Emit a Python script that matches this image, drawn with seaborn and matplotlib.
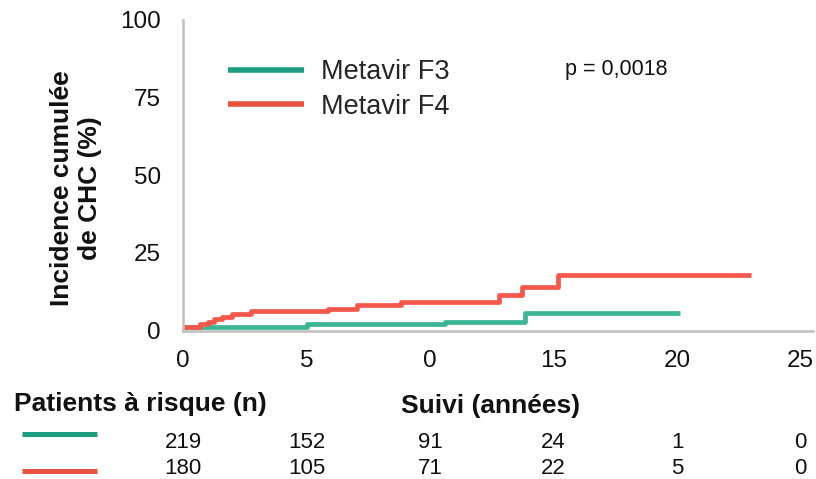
import matplotlib
matplotlib.use('Agg')
import matplotlib.pyplot as plt
from matplotlib.lines import Line2D
from matplotlib.transforms import blended_transform_factory
import seaborn as sns
import pandas as pd

# Cumulative incidence curves.
f3_time = [0, 5.0, 10.6, 13.85, 20.1]
f3_incidence = [1.0, 2.1, 2.8, 5.7, 5.7]
f4_time = [0, 0.69, 1.03, 1.27, 1.57, 1.97, 2.75, 5.88, 7.03, 8.81,
    12.8, 13.71, 15.17, 23.0]
f4_incidence = [1.1, 2.0, 2.6, 3.6, 4.4, 5.4, 6.2, 7.0, 8.2, 9.3,
    11.5, 14.1, 17.8, 17.8]

groups = ['Metavir F3', 'Metavir F4']
x_ticks = [0, 5, 10, 15, 20, 25]
x_tick_labels = ['0', '5', '0', '15', '20', '25']
y_ticks = [0, 25, 50, 75, 100]

# Patients at risk table.
at_risk_f3 = [219, 152, 91, 24, 1, 0]
at_risk_f4 = [180, 105, 71, 22, 5, 0]
p_text = 'p = 0,0018'

curve_colors = {'Metavir F3': '#3cb594', 'Metavir F4': '#f5584b'}
key_colors = {'Metavir F3': '#1d9e80', 'Metavir F4': '#e85440'}

# Building the long DataFrame.
df = pd.concat([
    pd.DataFrame({'time': f3_time, 'incidence': f3_incidence,
        'group': groups[0]}),
    pd.DataFrame({'time': f4_time, 'incidence': f4_incidence,
        'group': groups[1]})], ignore_index=True)

sns.set_style('white')
plt.rcParams['font.family'] = ['Liberation Sans', 'DejaVu Sans']

W, H = 816, 479
fig = plt.figure(figsize=(W / 100, H / 100), dpi=100)
ax = fig.add_axes([183 / W, 1 - 330.5 / H, 630 / W, 310.5 / H])

sns.lineplot(data=df, x='time', y='incidence', hue='group',
    hue_order=groups, palette=curve_colors, drawstyle='steps-post',
    linewidth=3.4, solid_capstyle='butt', errorbar=None, ax=ax)

ax.set_xlim(0, 25.5)
ax.set_ylim(0, 100)
ax.set_xticks(x_ticks)
ax.set_xticklabels(x_tick_labels)
ax.set_yticks(y_ticks)
ax.set_xlabel('')
ax.set_ylabel('')

# Axes styling.
sns.despine(ax=ax)
for side in ['left', 'bottom']:
    ax.spines[side].set_color('#bfbfbf')
    ax.spines[side].set_linewidth(1.8)
ax.tick_params(axis='both', color='#bfbfbf', width=1.8, length=5,
    labelsize=17.5, labelcolor='#111111')
ax.tick_params(axis='x', pad=9)
ax.tick_params(axis='y', pad=11)

# Legend.
handles, labels = ax.get_legend_handles_labels()
leg = ax.legend(handles, labels, loc='upper left',
    bbox_to_anchor=(228 / W, 1 - 59 / H), bbox_transform=fig.transFigure,
    frameon=False, fontsize=19.5, handlelength=2.8, handletextpad=0.65,
    labelspacing=0.33, borderpad=0, borderaxespad=0)
for line, name in zip(leg.get_lines(), labels):
    line.set_color(key_colors[name])
    line.set_linewidth(4)

fig.text(565 / W, 1 - 70 / H, p_text, fontsize=15.5, va='center',
    color='#111111')

# Y label.
fig.text(76 / W, 1 - 188 / H, 'Incidence cumulée\nde CHC (%)',
    rotation=90, ha='center', va='center', multialignment='center',
    fontsize=19, fontweight='bold', linespacing=1.2, color='#111111')

# X label and at-risk table.
fig.text(491 / W, 1 - 405.5 / H, 'Suivi (années)', ha='center',
    va='center', fontsize=19, fontweight='bold', color='#111111')
fig.text(14 / W, 1 - 404 / H, 'Patients à risque (n)', ha='left',
    va='center', fontsize=19, fontweight='bold', color='#111111')

row_trans = blended_transform_factory(ax.transData, fig.transFigure)
for counts, y_px, name in [(at_risk_f3, 443, groups[0]),
                           (at_risk_f4, 469, groups[1])]:
    for t, n in zip(x_ticks, counts):
        ax.text(t, 1 - y_px / H, str(n), transform=row_trans,
            ha='center', va='center', fontsize=16, color='#111111',
            clip_on=False)
for y_px, name in [(434, groups[0]), (471, groups[1])]:
    fig.add_artist(Line2D([22 / W, 97 / W], [1 - y_px / H] * 2,
        transform=fig.transFigure, color=key_colors[name], linewidth=3.6,
        solid_capstyle='butt'))

fig.savefig('out.png', dpi=100)
